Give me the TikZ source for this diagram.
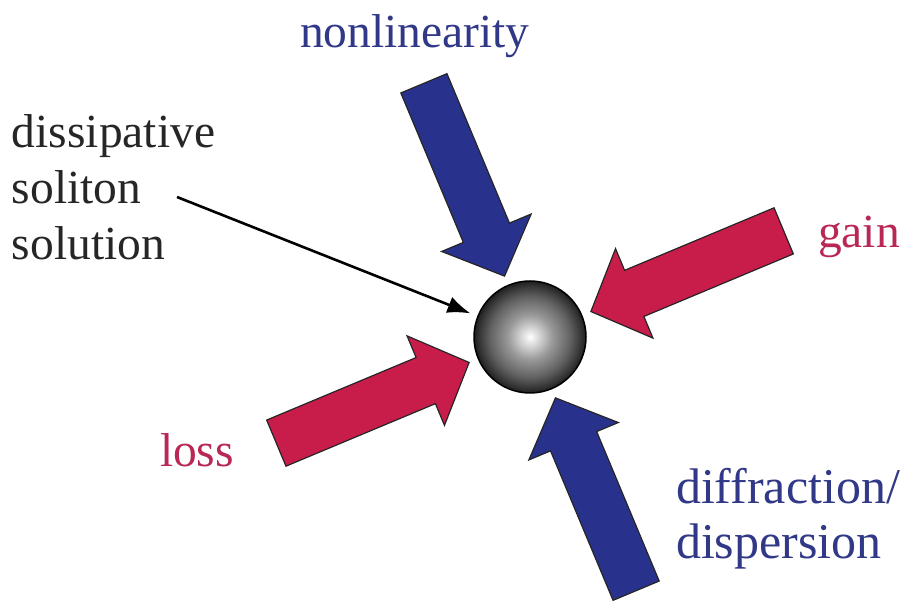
\documentclass[tikz,border=0pt]{standalone}
\usepackage{fontspec}
\setmainfont{Liberation Serif}
\usetikzlibrary{arrows.meta}
\definecolor{arrblue}{RGB}{40,50,140}
\definecolor{arrred}{RGB}{200,28,75}
\definecolor{txtblue}{RGB}{48,56,135}
\definecolor{txtred}{RGB}{185,40,85}
\pgfdeclareradialshading{sphshade}{\pgfpointorigin}{%
  color(0bp)=(white);
  color(2bp)=(white!92!black);
  color(10bp)=(black!40);
  color(18bp)=(black!62);
  color(23bp)=(black!80);
  color(25bp)=(black!88);
  color(50bp)=(black!88)}
\newcommand{\forcearrow}[2]{%
  \draw[forcestyle, fill=#2, shift={(530,267)}, rotate=#1]
    (-66,0) -- (-113,48.5) -- (-113,25) -- (-275,25) -- (-275,-25)
    -- (-113,-25) -- (-113,-48.5) -- cycle;}
\tikzset{
  forcestyle/.style={draw=black!85, line width=1.2pt, line join=miter},
  lbl/.style={inner sep=0pt, outer sep=0pt, font=\fontsize{47.5}{56}\selectfont},
  lblbig/.style={inner sep=0pt, outer sep=0pt, font=\fontsize{50}{55}\selectfont},
  pointer/.style={line width=2.6pt, -{Latex[length=23pt,width=17pt]}}
}
\begin{document}
\begin{tikzpicture}[x=1pt,y=1pt]
\useasboundingbox (0,0) rectangle (904,604);
% force arrows
\forcearrow{-67.3}{arrblue}
\forcearrow{202.7}{arrred}
\forcearrow{22.7}{arrred}
\forcearrow{112.7}{arrblue}
% sphere
\node[circle, minimum size=112pt, inner sep=0pt, outer sep=0pt,
      draw=black, line width=1.5pt, shading=sphshade] (sph) at (530,267) {};
% labels
\node[lbl, anchor=base west, text=txtblue] (nonlin) at (300,556) {nonlinearity};
\node[lbl, anchor=base west, text=txtred] (gain) at (818,356) {gain};
\node[lbl, anchor=base west, text=txtred] (loss) at (160,137) {loss};
\node[lblbig, anchor=north west, align=left, text=txtblue] (diffr) at (676,136) {diffraction/\\dispersion};
\node[lbl, anchor=north west, align=left, text=black!85] (diss) at (12,489) {dissipative\\soliton\\solution};
% pointer
\coordinate (ptrstart) at (177,407);
\draw[pointer, shorten >=8pt] (ptrstart) -- (sph);
\end{tikzpicture}
\end{document}
